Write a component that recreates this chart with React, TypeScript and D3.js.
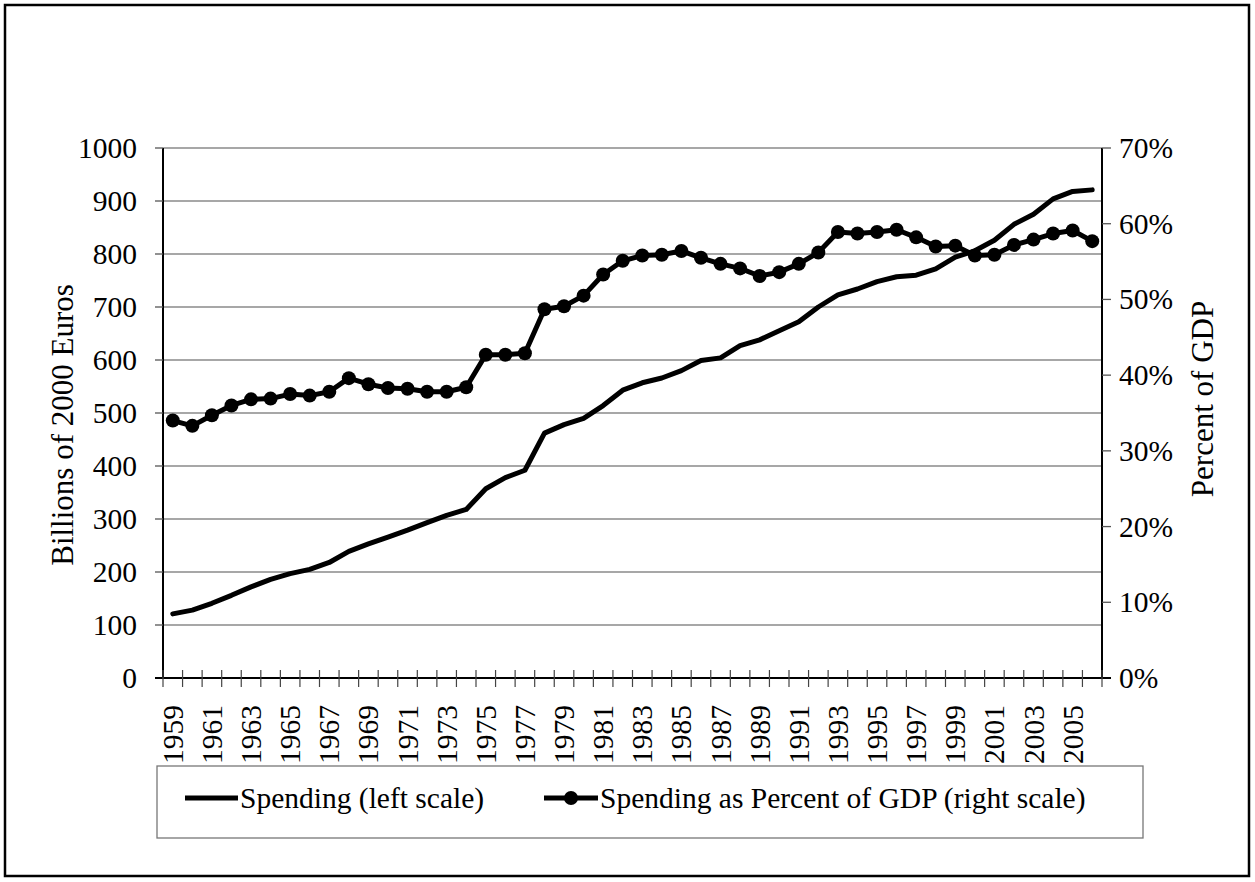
import React from 'react';
import * as d3 from 'd3';

const years: number[] = [
  1959, 1960, 1961, 1962, 1963, 1964, 1965, 1966, 1967, 1968,
  1969, 1970, 1971, 1972, 1973, 1974, 1975, 1976, 1977, 1978,
  1979, 1980, 1981, 1982, 1983, 1984, 1985, 1986, 1987, 1988,
  1989, 1990, 1991, 1992, 1993, 1994, 1995, 1996, 1997, 1998,
  1999, 2000, 2001, 2002, 2003, 2004, 2005, 2006,
];

// Spending, billions of 2000 euros (left scale)
const spending: number[] = [
  121, 128, 141, 156, 172, 186, 197, 205, 218, 239,
  253, 266, 279, 293, 307, 318, 357, 378, 392, 462,
  478, 490, 514, 543, 557, 566, 580, 599, 604, 627,
  638, 655, 672, 700, 723, 734, 748, 757, 760, 772,
  794, 806, 826, 856, 875, 904, 918, 921,
];

// Spending as percent of GDP (right scale)
const pctGDP: number[] = [
  34.0, 33.3, 34.7, 36.0, 36.8, 36.9, 37.5, 37.3, 37.8, 39.6,
  38.8, 38.3, 38.2, 37.8, 37.8, 38.4, 42.7, 42.7, 42.9, 48.7,
  49.1, 50.5, 53.3, 55.1, 55.8, 55.9, 56.4, 55.5, 54.7, 54.1,
  53.1, 53.6, 54.7, 56.2, 58.9, 58.7, 58.9, 59.2, 58.2, 57.0,
  57.1, 55.8, 55.9, 57.2, 57.9, 58.7, 59.1, 57.7,
];

const leftTicks: number[] = [0, 100, 200, 300, 400, 500, 600, 700, 800, 900, 1000];
const rightTicks: number[] = [0, 10, 20, 30, 40, 50, 60, 70];

const leftTitle = 'Billions of 2000 Euros';
const rightTitle = 'Percent of GDP';
const legendLabels: string[] = ['Spending (left scale)', 'Spending as Percent of GDP (right scale)'];

const W = 1255;
const H = 882;
const PL = 163;
const PR = 1102;
const PT = 148;
const PB = 678;
const FONT = "'Liberation Serif', 'Times New Roman', serif";

export default function App() {
  const x = d3.scaleBand<number>().domain(years).range([PL, PR]);
  const yL = d3.scaleLinear().domain([0, 1000]).range([PB, PT]);
  const yR = d3.scaleLinear().domain([0, 70]).range([PB, PT]);
  const cx = (y: number) => (x(y) as number) + x.bandwidth() / 2;

  const lineL = d3.line<number>().x((_, i) => cx(years[i])).y((d) => yL(d));
  const lineR = d3.line<number>().x((_, i) => cx(years[i])).y((d) => yR(d));

  const boundaries = d3.range(years.length + 1).map((i) => PL + i * x.step());

  const legendY = 798;

  return (
    <svg
      width={W}
      height={H}
      style={{ position: 'absolute', left: 0, top: 0, background: '#fff' }}
      fontFamily={FONT}
    >
      <rect x={0} y={0} width={W} height={H} fill="#fff" />
      <rect x={5} y={5} width={1244} height={871} fill="none" stroke="#000" strokeWidth={2.5} />

      {/* gridlines */}
      {leftTicks.map((t) => (
        <line key={'g' + t} x1={PL} x2={PR} y1={yL(t)} y2={yL(t)} stroke="#8a8a8a" strokeWidth={1.3} />
      ))}

      {/* left axis */}
      <line x1={PL} x2={PL} y1={PT} y2={PB} stroke="#000" strokeWidth={2} />
      {leftTicks.map((t) => (
        <g key={'lt' + t}>
          <line x1={PL - 8} x2={PL} y1={yL(t)} y2={yL(t)} stroke="#555" strokeWidth={1.3} />
          <text x={137} y={yL(t)} textAnchor="end" dominantBaseline="central" fontSize={29.5} fill="#000">
            {t}
          </text>
        </g>
      ))}

      {/* right axis */}
      <line x1={PR} x2={PR} y1={PT} y2={PB} stroke="#000" strokeWidth={2} />
      {rightTicks.map((t) => (
        <g key={'rt' + t}>
          <line x1={PR} x2={PR + 9} y1={yR(t)} y2={yR(t)} stroke="#555" strokeWidth={1.3} />
          <text x={1119} y={yR(t)} textAnchor="start" dominantBaseline="central" fontSize={29.5} fill="#000">
            {t + '%'}
          </text>
        </g>
      ))}

      {/* bottom axis */}
      <line x1={PL - 8} x2={PR + 9} y1={PB} y2={PB} stroke="#000" strokeWidth={2} />
      {boundaries.map((bx, i) => (
        <line key={'bt' + i} x1={bx} x2={bx} y1={PB - 8} y2={PB + 9} stroke="#444" strokeWidth={1.2} />
      ))}
      {years.map((yr, i) =>
        i % 2 === 0 ? (
          <text
            key={'yl' + yr}
            transform={`translate(${cx(yr)},${PB + 27}) rotate(-90)`}
            textAnchor="end"
            dominantBaseline="central"
            fontSize={29.5}
            fill="#000"
          >
            {yr}
          </text>
        ) : null
      )}

      {/* axis titles */}
      <text
        transform={`translate(62,${(PT + PB) / 2 + 12}) rotate(-90)`}
        textAnchor="middle"
        dominantBaseline="central"
        fontSize={31}
        fill="#000"
      >
        {leftTitle}
      </text>
      <text
        transform={`translate(1202,${(PT + PB) / 2 - 14}) rotate(-90)`}
        textAnchor="middle"
        dominantBaseline="central"
        fontSize={31}
        fill="#000"
      >
        {rightTitle}
      </text>

      {/* series */}
      <path d={lineL(spending) || ''} fill="none" stroke="#000" strokeWidth={5} strokeLinejoin="round" strokeLinecap="round" />
      <path d={lineR(pctGDP) || ''} fill="none" stroke="#000" strokeWidth={5} strokeLinejoin="round" />
      {pctGDP.map((p, i) => (
        <circle key={'c' + i} cx={cx(years[i])} cy={yR(p)} r={7} fill="#000" />
      ))}

      {/* legend */}
      <rect x={157} y={766} width={986} height={72} fill="none" stroke="#777" strokeWidth={1.3} />
      <line x1={185} x2={238} y1={legendY} y2={legendY} stroke="#000" strokeWidth={5} />
      <text x={240} y={legendY} dominantBaseline="central" fontSize={29.5} fill="#000">
        {legendLabels[0]}
      </text>
      <line x1={544} x2={598} y1={legendY} y2={legendY} stroke="#000" strokeWidth={5} />
      <circle cx={571} cy={legendY} r={7} fill="#000" />
      <text x={600} y={legendY} dominantBaseline="central" fontSize={29.5} fill="#000">
        {legendLabels[1]}
      </text>
    </svg>
  );
}
